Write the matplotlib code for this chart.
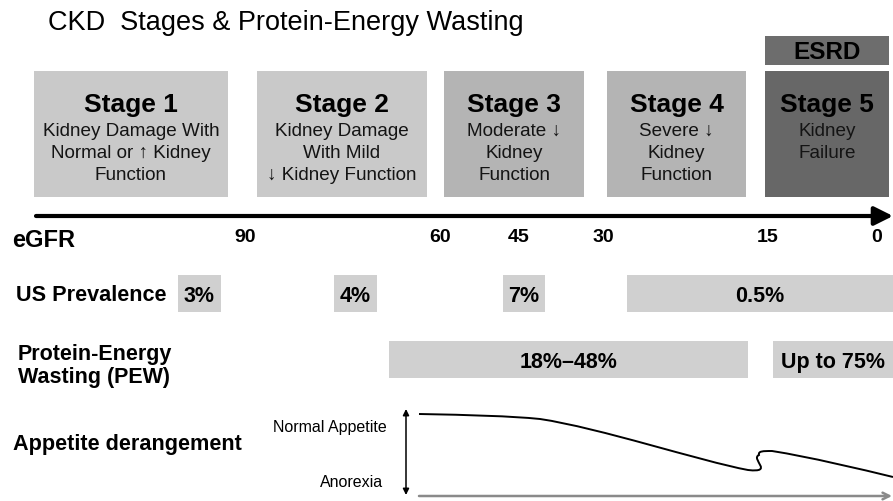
import matplotlib.pyplot as plt
from matplotlib.patches import Rectangle, PathPatch
from matplotlib.path import Path

plt.rcParams['font.family'] = ['Liberation Sans', 'DejaVu Sans']

W, H = 893, 502

title = 'CKD  Stages & Protein-Energy Wasting'

stage_names = ['Stage 1', 'Stage 2', 'Stage 3', 'Stage 4', 'Stage 5']
stage_desc = ['Kidney Damage With\nNormal or \u2191 Kidney\nFunction',
              'Kidney Damage\nWith Mild\n\u2193 Kidney Function',
              'Moderate \u2193\nKidney\nFunction',
              'Severe \u2193\nKidney\nFunction',
              'Kidney\nFailure']
stage_start = [34, 257, 444, 607, 765]
stage_end = [228, 427, 584, 746, 889]

egfr_ticks = ['90', '60', '45', '30', '15', '0']
egfr_pos = [245, 440, 519, 603, 768, 877]

prev_labels = ['3%', '4%', '7%', '0.5%']
prev_start = [178, 334, 503, 627]
prev_end = [221, 377, 545, 893]

pew_labels = ['18%\u201348%', 'Up to 75%']
pew_start = [389, 773]
pew_end = [748, 893]

# appetite curve, cubic bezier: start point then (ctrl, ctrl, end) per segment
appetite_x = [419, 470, 510, 540, 600, 700, 748, 775, 750, 759, 758, 763, 772, 810, 860, 893]
appetite_y = [415, 416, 417, 420, 429, 462, 471, 474, 460, 456, 452, 452, 452, 458, 470, 478]

stage_colors = ['#c9c9c9', '#c9c9c9', '#b4b4b4', '#b4b4b4', '#676767']
box_grey = '#d0d0d0'

fig = plt.figure(figsize=(W / 100, H / 100), dpi=100)
ax = fig.add_axes([0, 0, 1, 1])
ax.set_xlim(0, W)
ax.set_ylim(H, 0)
ax.axis('off')

ax.text(48, 30, title, fontsize=19.5, va='baseline', ha='left')

# stage boxes
for i in range(len(stage_names)):
    x0, x1 = stage_start[i], stage_end[i]
    ax.add_patch(Rectangle((x0, 72), x1 - x0, 126, color=stage_colors[i], lw=0))
    xc = (x0 + x1) / 2
    ax.text(xc, 112, stage_names[i], fontsize=19, fontweight='bold', ha='center', va='baseline')
    ax.text(xc, 123, stage_desc[i], fontsize=13.6, ha='center', va='top',
            linespacing=1.38, color='#141414', multialignment='center')

ax.add_patch(Rectangle((765, 37), 124, 29, color='#6d6d6d', lw=0))
ax.text(827, 59, 'ESRD', fontsize=17.5, fontweight='bold', ha='center', va='baseline')

# eGFR axis
ax.annotate('', xy=(893, 217), xytext=(36, 217),
            arrowprops=dict(arrowstyle='-|>', lw=3, color='black', mutation_scale=28,
                            shrinkA=0, shrinkB=0))
ax.text(12, 247, 'eGFR', fontsize=17, fontweight='bold', va='baseline')
for lab, x in zip(egfr_ticks, egfr_pos):
    ax.text(x, 242, lab, fontsize=14, fontweight='bold', ha='center', va='baseline')

# US prevalence
ax.text(16, 301, 'US Prevalence', fontsize=15.6, fontweight='bold', va='baseline')
for lab, x0, x1 in zip(prev_labels, prev_start, prev_end):
    ax.add_patch(Rectangle((x0, 276), x1 - x0, 37, color=box_grey, lw=0))
    ax.text((x0 + x1) / 2, 302, lab, fontsize=15.5, fontweight='bold', ha='center', va='baseline')

# PEW
ax.text(18, 383, 'Protein-Energy\nWasting (PEW)', fontsize=15.5, fontweight='bold',
        va='baseline', linespacing=1.15)
for lab, x0, x1 in zip(pew_labels, pew_start, pew_end):
    ax.add_patch(Rectangle((x0, 342), x1 - x0, 37, color=box_grey, lw=0))
    ax.text((x0 + x1) / 2, 368, lab, fontsize=15.5, fontweight='bold', ha='center', va='baseline')

# appetite
ax.text(13, 450, 'Appetite derangement', fontsize=15.6, fontweight='bold', va='baseline')
ax.text(387, 432, 'Normal Appetite', fontsize=11.5, ha='right', va='baseline')
ax.text(383, 487, 'Anorexia', fontsize=11.5, ha='right', va='baseline')
ax.annotate('', xy=(406, 410), xytext=(406, 496),
            arrowprops=dict(arrowstyle='<|-|>', lw=1.1, color='black', mutation_scale=9,
                            shrinkA=0, shrinkB=0))
ax.annotate('', xy=(892, 497), xytext=(419, 497),
            arrowprops=dict(arrowstyle='->', lw=1.8, color='#8a8a8a', mutation_scale=12,
                            shrinkA=0, shrinkB=0))

codes = [Path.MOVETO] + [Path.CURVE4] * (len(appetite_x) - 1)
curve = Path(list(zip(appetite_x, appetite_y)), codes)
ax.add_patch(PathPatch(curve, fill=False, lw=1.4, edgecolor='black'))

fig.savefig('out.png', dpi=100)
